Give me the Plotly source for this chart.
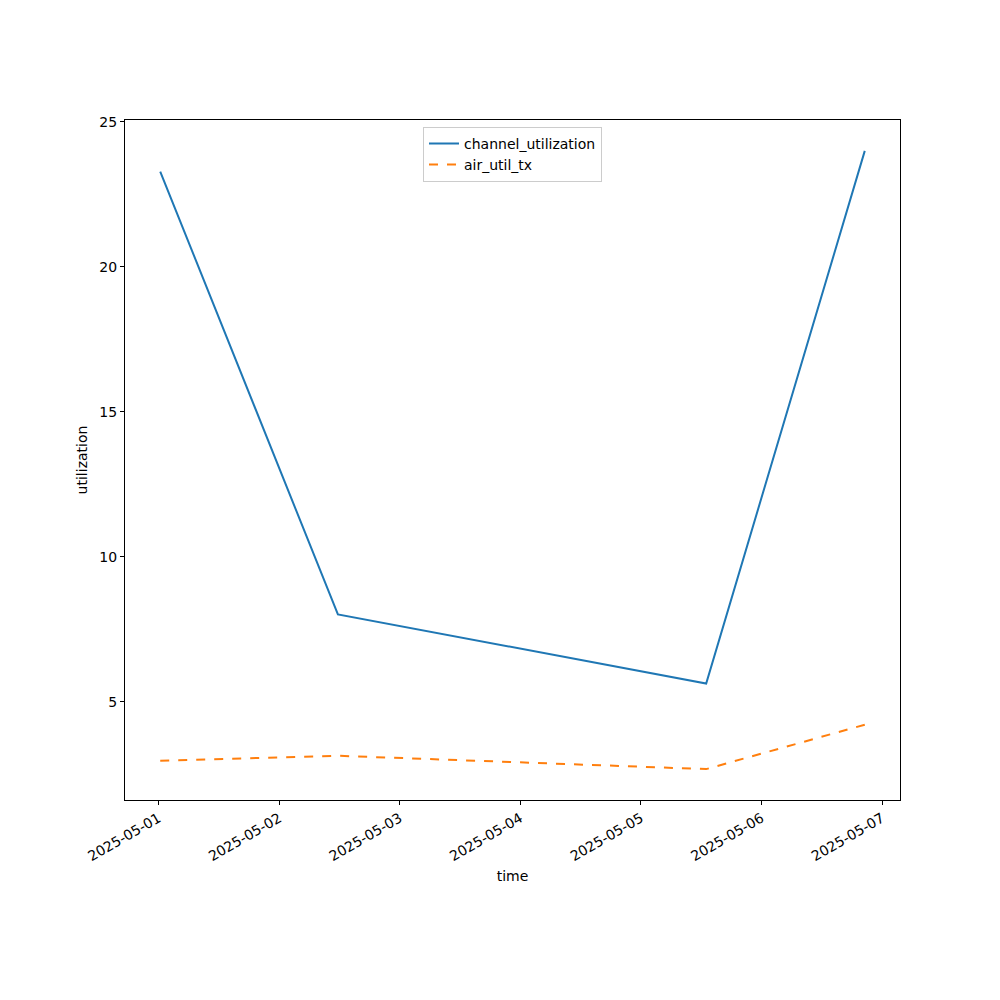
import plotly.graph_objects as go
import pandas as pd

times = ["2025-05-01 00:20", "2025-05-02 11:42", "2025-05-05 13:00", "2025-05-06 20:34"]
channel_utilization = [23.28, 8.01, 5.63, 23.99]
air_util_tx = [2.97, 3.14, 2.68, 4.21]

t = pd.to_datetime(times)
tmin, tmax = t.min(), t.max()
pad = (tmax - tmin) * 0.05
xr = [tmin - pad, tmax + pad]
allv = channel_utilization + air_util_tx
vmin, vmax = min(allv), max(allv)
vp = (vmax - vmin) * 0.05
yr = [vmin - vp, vmax + vp]

font = dict(family="DejaVu Sans", size=14, color="black")

fig = go.Figure()
fig.add_trace(go.Scatter(x=t, y=channel_utilization, mode="lines", name="channel_utilization",
                         line=dict(color="#1f77b4", width=2)))
fig.add_trace(go.Scatter(x=t, y=air_util_tx, mode="lines", name="air_util_tx",
                         line=dict(color="#ff7f0e", width=2, dash="dash")))

fig.update_layout(
    width=1000, height=1000,
    margin=dict(l=117, r=108, t=112, b=208, autoexpand=False),
    paper_bgcolor="white", plot_bgcolor="white",
    font=font,
    showlegend=True,
    legend=dict(x=0.5, xanchor="center", y=0.99, yanchor="top", tracegroupgap=0,
                bgcolor="rgba(255,255,255,0.8)", bordercolor="#cccccc", borderwidth=1,
                font=dict(family="DejaVu Sans", size=14)),
)
fig.update_xaxes(
    range=xr, showgrid=False, zeroline=False, automargin=False,
    showline=True, linecolor="black", linewidth=1, mirror=True,
    ticks="outside", ticklen=4, tickcolor="black",
    dtick=86400000, tick0="2025-05-01", tickformat="%Y-%m-%d", tickangle=-30,
    title=dict(text="time", font=font, standoff=8),
)
fig.update_yaxes(
    range=yr, showgrid=False, zeroline=False, automargin=False,
    showline=True, linecolor="black", linewidth=1, mirror=True,
    ticks="outside", ticklen=4, tickcolor="black",
    tickvals=[5, 10, 15, 20, 25],
    title=dict(text="utilization", font=font, standoff=8),
)
fig.write_html("out.html")
